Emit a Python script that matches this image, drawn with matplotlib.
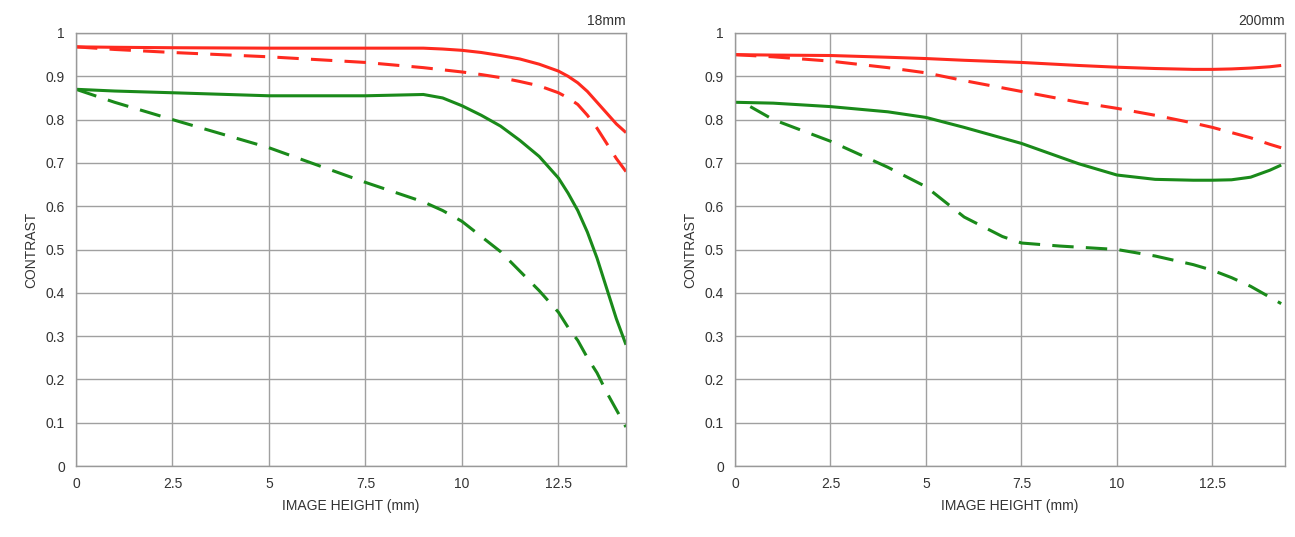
import matplotlib
matplotlib.use("Agg")
import matplotlib.pyplot as plt

# MTF-style contrast curves
x_18 = [0, 1, 2.5, 5, 7.5, 9, 9.5, 10, 10.5, 11, 11.5, 12, 12.5, 12.75, 13, 13.25, 13.5, 13.75, 14.0, 14.25]
red_solid_18 = [0.968, 0.967, 0.966, 0.965, 0.965, 0.965, 0.963, 0.96, 0.955, 0.948, 0.94, 0.928, 0.912, 0.90,
                0.885, 0.865, 0.84, 0.815, 0.79, 0.77]
red_dash_18 = [0.968, 0.962, 0.955, 0.945, 0.932, 0.92, 0.915, 0.91, 0.904, 0.897, 0.888, 0.878, 0.862, 0.85,
               0.835, 0.81, 0.78, 0.745, 0.71, 0.68]
green_solid_18 = [0.87, 0.866, 0.862, 0.855, 0.855, 0.858, 0.85, 0.832, 0.81, 0.785, 0.752, 0.715, 0.665, 0.63,
                  0.59, 0.54, 0.48, 0.41, 0.34, 0.28]
green_dash_18 = [0.87, 0.84, 0.80, 0.735, 0.655, 0.61, 0.59, 0.565, 0.53, 0.495, 0.45, 0.405, 0.355, 0.32,
                 0.29, 0.25, 0.215, 0.17, 0.13, 0.09]

x_200 = [0, 1, 2.5, 4, 5, 6, 7.5, 9, 10, 11, 12, 12.5, 13, 13.5, 14.0, 14.3]
red_solid_200 = [0.95, 0.949, 0.948, 0.944, 0.941, 0.937, 0.932, 0.925, 0.921, 0.918, 0.916, 0.916, 0.917, 0.919, 0.922, 0.925]
red_dash_200 = [0.95, 0.945, 0.935, 0.92, 0.908, 0.89, 0.865, 0.84, 0.826, 0.81, 0.792, 0.782, 0.77, 0.758, 0.743, 0.735]
green_solid_200 = [0.84, 0.838, 0.83, 0.818, 0.805, 0.782, 0.745, 0.698, 0.672, 0.662, 0.66, 0.66, 0.661, 0.667, 0.683, 0.695]
green_dash_200_x = [0.4, 1, 2.5, 4, 5, 6, 7, 7.5, 8.5, 10, 11, 12, 12.5, 13, 13.5, 14.0, 14.3]
green_dash_200 = [0.83, 0.80, 0.75, 0.69, 0.645, 0.575, 0.53, 0.515, 0.508, 0.50, 0.485, 0.465, 0.452, 0.435, 0.415, 0.39, 0.375]

xticks = [0, 2.5, 5, 7.5, 10, 12.5]
xtick_labels = ["0", "2.5", "5", "7.5", "10", "12.5"]
yticks = [0, 0.1, 0.2, 0.3, 0.4, 0.5, 0.6, 0.7, 0.8, 0.9, 1]
ytick_labels = ["0", "0.1", "0.2", "0.3", "0.4", "0.5", "0.6", "0.7", "0.8", "0.9", "1"]

RED = "#ff2a1f"
GREEN = "#1a8a1a"
GRID = "#a0a0a0"

plt.rcParams["font.family"] = ["Liberation Sans Narrow", "Liberation Sans", "DejaVu Sans"]

fig = plt.figure(figsize=(12.95, 5.37), dpi=100)
ax1 = fig.add_axes([76 / 1295, 1 - 466 / 537, 550 / 1295, 433 / 537])
ax2 = fig.add_axes([735 / 1295, 1 - 466 / 537, 550 / 1295, 433 / 537])

panels = [
    (ax1, "18mm", 14.25, x_18, x_18, red_solid_18, red_dash_18, green_solid_18, green_dash_18),
    (ax2, "200mm", 14.4, x_200, green_dash_200_x, red_solid_200, red_dash_200, green_solid_200, green_dash_200),
]

for ax, title, xmax, xs, xgd, rs, rd, gs, gd in panels:
    ax.plot(xs, rs, color=RED, lw=2.2, solid_capstyle="butt")
    ax.plot(xs, rd, color=RED, lw=2.2, dashes=(7, 4))
    ax.plot(xs, gs, color=GREEN, lw=2.2, solid_capstyle="butt")
    ax.plot(xgd, gd, color=GREEN, lw=2.2, dashes=(7, 4))

    ax.set_xlim(0, xmax)
    ax.set_ylim(0, 1)
    ax.set_xticks(xticks)
    ax.set_xticklabels(xtick_labels)
    ax.set_yticks(yticks)
    ax.set_yticklabels(ytick_labels)
    ax.grid(True, color=GRID, lw=1.0)
    ax.set_axisbelow(True)
    ax.tick_params(length=0, labelsize=10, colors="#333333", pad=8)
    for sp in ax.spines.values():
        sp.set_color("#999999")
        sp.set_linewidth(1.0)
    ax.set_xlabel("IMAGE HEIGHT (mm)", fontsize=10, color="#333333", labelpad=6)
    ax.set_ylabel("CONTRAST", fontsize=10, color="#333333", labelpad=5)
    ax.set_title(title, loc="right", fontsize=10, color="#333333", pad=6)

fig.savefig("out.png", dpi=100)
